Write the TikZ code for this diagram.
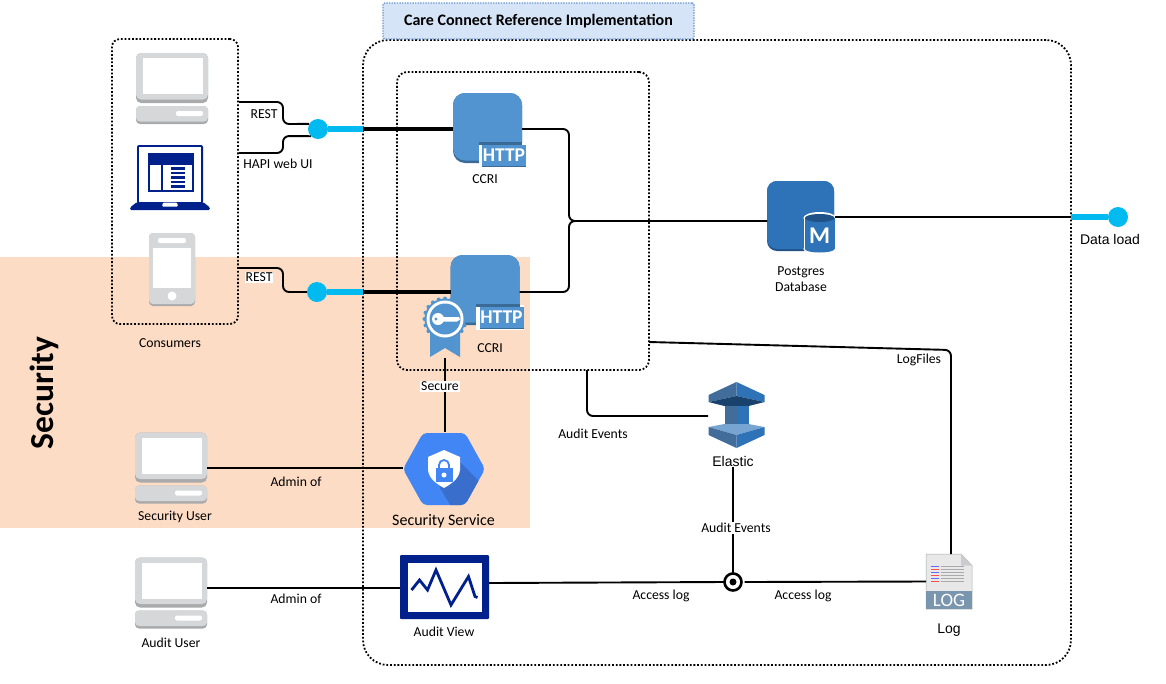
\documentclass[tikz,border=0pt]{standalone}
\usepackage{fontspec}
\setmainfont{Carlito}
\newfontfamily\helvfont{Liberation Sans}
\usetikzlibrary{arrows.meta,positioning,fit,calc}
\definecolor{zonepeach}{RGB}{252,220,196}
\definecolor{titleblue}{RGB}{214,228,248}
\definecolor{titledot}{RGB}{110,150,205}
\definecolor{cyanlink}{RGB}{0,186,240}
\definecolor{iconlight}{RGB}{213,215,216}
\definecolor{icondark}{RGB}{168,170,171}
\definecolor{navyicon}{RGB}{0,32,140}
\definecolor{awsblue}{RGB}{82,148,207}
\definecolor{awsshade}{RGB}{58,106,150}
\definecolor{dbblue}{RGB}{46,115,184}
\definecolor{dbshade}{RGB}{32,82,136}
\definecolor{gcpblue}{RGB}{66,133,244}
\definecolor{gcpshade}{RGB}{58,110,205}
\definecolor{logband}{RGB}{122,150,175}
\definecolor{logpage}{RGB}{232,232,232}
\tikzset{
  dotbox/.style={draw,rounded corners=#1,line width=1.8pt,dash pattern=on 1.8pt off 1.9pt},
  wire/.style={line width=1.9pt,rounded corners=6pt},
  heavywire/.style={line width=3.2pt},
  cyanwire/.style={cyanlink,line width=5.5pt},
  gate/.style={circle,fill=cyanlink,inner sep=0pt,minimum size=20pt},
  icon/.style={inner sep=0pt,outer sep=0pt},
  lbl/.style={inner sep=1pt,font=\fontsize{13.7}{15.5}\selectfont},
  lblback/.style={lbl,fill=white},
  lblhelv/.style={inner sep=1pt,font=\helvfont\fontsize{14}{16}\selectfont},
  pics/desktop/.style={code={
    \fill[icondark,rounded corners=5pt] (-36,-35.5) rectangle (36,14.5);
    \fill[iconlight,rounded corners=5pt] (-36,-35.5) rectangle (36,11);
    \fill[white] (-29,-30.5) rectangle (31,5.5);
    \fill[icondark,rounded corners=4pt] (-36,17.5) rectangle (36,35.5);
    \fill[iconlight,rounded corners=4pt] (-36,17.5) rectangle (36,33);
    \fill[white,rounded corners=2pt] (4,22.5) rectangle (31,27.5);
  }},
  pics/laptop/.style={code={
    \fill[navyicon,rounded corners=2pt] (-33,-32.5) rectangle (33,26);
    \fill[white] (-31,-30.5) rectangle (31,25);
    \fill[navyicon] (-22,-25) rectangle (24,14.5);
    \fill[white] (-20,-12.5) rectangle (-9,12);
    \fill[white] (-7,-12.5) rectangle (22,12);
    \foreach \liney in {-9,-4.5,0,4.5,9} {\fill[navyicon] (1,\liney-1.3) rectangle (15,\liney+1.3);}
    \fill[navyicon,rounded corners=1.5pt] (-33,24.5) -- (33,24.5) -- (40,30) -- (40,32.5) -- (-40,32.5) -- (-40,30) -- cycle;
    \fill[white,rounded corners=1pt] (-7,25) -- (7,25) -- (8,29) -- (-8,29) -- cycle;
  }},
  pics/phone/.style={code={
    \fill[icondark,rounded corners=4pt] (-23,-36.5) rectangle (23,36.5);
    \fill[iconlight,rounded corners=4pt] (-23,-36.5) rectangle (23,34.5);
    \fill[white,rounded corners=2pt] (-14,-31.5) rectangle (14,-26.5);
    \fill[white] (-19,-21.5) rectangle (19,18.5);
    \fill[white] (0,26.5) circle (4.5);
  }},
  pics/httpblock/.style={code={
    \fill[awsshade,rounded corners=12pt] (-34.5,-35) rectangle (34.5,35);
    \fill[awsblue,rounded corners=12pt] (-34.5,-35) rectangle (34.5,32.5);
    \fill[white] (-9,15) rectangle (39,40);
    \fill[awsshade] (-9,14) rectangle (34.5,17);
    \fill[awsblue] (-5.5,17) rectangle (38.5,39);
    \fill[awsshade] (-5.5,37.5) rectangle (38.5,39);
    \node[icon,white,font=\bfseries\fontsize{19.5}{22}\selectfont] at (16.5,27.5) {HTTP};
  }},
  pics/dbblock/.style={code={
    \fill[dbshade,rounded corners=10pt] (-34,-35) rectangle (33,35);
    \fill[dbblue,rounded corners=10pt] (-34,-35) rectangle (33,33);
    \fill[white] (2.5,2) rectangle (35,33);
    \fill[white] (18.7,2) ellipse (16.3 and 6);
    \fill[white] (18.7,33) ellipse (16.3 and 5);
    \fill[dbblue] (4,2) rectangle (33.5,33);
    \fill[dbblue] (18.7,33) ellipse (14.8 and 3.5);
    \fill[dbshade] (18.7,2) ellipse (14.8 and 4);
    \node[icon,white,font=\bfseries\fontsize{24}{26}\selectfont] at (18.7,20) {M};
  }},
  pics/elasticstack/.style={code={
    \fill[dbshade!85] (-28,-20) -- (0,-33) -- (0,-19) -- (-28,-13) -- cycle;
    \fill[dbblue] (28,-20) -- (0,-33) -- (0,-19) -- (28,-13) -- cycle;
    \fill[dbshade!80!black] (-28,-13) -- (0,-19) -- (28,-13) -- (12,-9) -- (-12,-9) -- cycle;
    \fill[dbshade!85] (-12,-9) rectangle (0,9);
    \fill[dbblue] (0,-9) rectangle (12,9);
    \fill[dbblue!65!white] (-12,9) -- (12,9) -- (28,12) -- (0,20) -- (-28,12) -- cycle;
    \fill[dbshade!85] (-28,12) -- (0,20) -- (0,33) -- (-28,20) -- cycle;
    \fill[dbblue] (28,12) -- (0,20) -- (0,33) -- (28,20) -- cycle;
  }},
  pics/logfile/.style={code={
    \fill[logpage,draw=icondark,line width=.5pt] (-23,-27.5) -- (12,-27.5) -- (23,-16) -- (23,27.5) -- (-23,27.5) -- cycle;
    \fill[icondark!60] (12,-27.5) -- (12,-16) -- (23,-16) -- cycle;
    \fill[logband] (-23,9) rectangle (23,27.5);
    \foreach \liney/\dotcol in {-15/blue!60,-12/red!70,-9/blue!60,-6/red!70,-3/blue!60,0/red!70} {
      \fill[\dotcol] (-18,\liney-.8) rectangle (-10,\liney+.8);
      \fill[icondark] (-8,\liney-.5) rectangle (15,\liney+.5);
    }
    \node[icon,white,font=\fontsize{19}{20}\selectfont] at (0,18.5) {LOG};
  }},
  pics/trendview/.style={code={
    \fill[navyicon,rounded corners=1pt] (-44.5,-32) rectangle (44.5,32);
    \fill[white] (-36.5,-24) rectangle (37.5,25);
    \draw[navyicon,line width=2.8pt] (-33,3) -- (-25,-7) -- (-17,3) -- (-8.5,-17) -- (6.5,18) -- (24,-10.5) -- (30.5,9.5) -- (33,10.5);
  }},
  pics/certbadge/.style={code={
    \fill[awsblue] (-15,12) -- (15,12) -- (15,38) -- (0,29) -- (-15,38) -- cycle;
    \fill[awsblue] (0,0) circle (20.5);
    \foreach \rayangle in {0,18,...,342} {\fill[awsblue] (\rayangle:20.5) circle (2);}
    \fill[white] (0,0) circle (18.5);
    \fill[awsblue] (0,0) circle (15.5);
    \fill[white] (-7,0) circle (6);
    \fill[white] (-3,-2) -- (14,-2) -- (15,.5) -- (12,2.5) -- (-3,2.5) -- cycle;
    \fill[awsblue] (-9,0) circle (1.6);
  }},
  pics/shieldhex/.style={code={
    \fill[gcpblue,rounded corners=4pt] (-41,1) -- (-21,-35) -- (21,-35) -- (41,1) -- (21,37) -- (-21,37) -- cycle;
    \begin{scope}
      \clip[rounded corners=4pt] (-41,1) -- (-21,-35) -- (21,-35) -- (41,1) -- (21,37) -- (-21,37) -- cycle;
      \fill[gcpshade] (14,-8) -- (50,28) -- (50,50) -- (14,50) -- (-4,20) -- cycle;
    \end{scope}
    \fill[white] (-16,-11) -- (0,-18) -- (16,-11) -- (16,2) .. controls (15,11) and (7,16) .. (0,20) .. controls (-7,16) and (-15,11) .. (-16,2) -- cycle;
    \draw[gcpblue,line width=1.8pt] (-5,1) -- (-5,-3) arc (180:360:5) -- (5,1);
    \fill[gcpblue] (-8.5,0) rectangle (8.5,14);
    \fill[white] (0,7) circle (2.5);
  }},
}
\begin{document}
\begin{tikzpicture}[x=1pt,y=-1pt,>=Latex]
\useasboundingbox (0,0) rectangle (1166,683);
\node[fill=zonepeach,icon,minimum width=530pt,minimum height=271pt] (securityzone) at (265,392.5) {};
\node[icon,rotate=90,font=\bfseries\fontsize{33.5}{35}\selectfont] (securitylabel) at (44,393) {Security};
\node[dotbox=25pt,icon,minimum width=708pt,minimum height=625pt] (careconnect) at (717,352.5) {};
\node[dotbox=10pt,icon,minimum width=252pt,minimum height=298pt] (ccrizone) at (523,221) {};
\node[dotbox=8pt,icon,minimum width=126pt,minimum height=285pt] (consumers) at (175,181.5) {};
\node[draw=titledot,fill=titleblue,icon,line width=1.4pt,dash pattern=on 1.4pt off 1.2pt,rounded corners=2pt,minimum width=311pt,minimum height=36pt,font=\bfseries\fontsize{16}{18}\selectfont] (titlebox) at (538.5,21) {Care Connect Reference Implementation};
% consumer side
\node[icon,minimum width=72pt,minimum height=71pt] (deskA) at (172,88.5) {};
\pic at (deskA) {desktop};
\node[icon,minimum width=80pt,minimum height=65pt] (webui) at (170,177.5) {};
\pic at (webui) {laptop};
\node[icon,minimum width=46pt,minimum height=73pt] (mobile) at (172,269.5) {};
\pic at (mobile) {phone};
\node[lbl] (consumerlabel) at (170,343) {Consumers};
\node[icon,minimum width=72pt,minimum height=71pt] (secuser) at (171,468) {};
\pic at (secuser) {desktop};
\node[lbl] (secuserlabel) at (175,517) {Security User};
\node[icon,minimum width=72pt,minimum height=71pt] (audituser) at (171,593) {};
\pic at (audituser) {desktop};
\node[lbl] (audituserlabel) at (171,643) {Audit User};
% services
\node[icon,minimum width=69pt,minimum height=70pt] (ccriA) at (487.5,128) {};
\pic at (ccriA) {httpblock};
\node[lbl] (ccriAlabel) at (485,179) {CCRI};
\node[icon,minimum width=69pt,minimum height=70pt] (ccriB) at (485,290) {};
\pic at (ccriB) {httpblock};
\node[lbl] (ccriBlabel) at (490,348) {CCRI};
\node[icon,minimum width=36pt,minimum height=57pt] (badge) at (445,329) {};
\pic at (445,319) {certbadge};
\node[icon,minimum width=68pt,minimum height=70pt] (database) at (801,216) {};
\pic at (database) {dbblock};
\node[lbl,align=center] (databaselabel) at (801,279) {Postgres\\Database};
\node[icon,minimum width=57pt,minimum height=66pt] (elastic) at (736.5,415) {};
\pic at (elastic) {elasticstack};
\node[lblhelv] (elasticlabel) at (733,461) {Elastic};
\node[icon,minimum width=82pt,minimum height=73pt] (secservice) at (444,468) {};
\pic at (secservice) {shieldhex};
\node[icon,font=\fontsize{16}{18}\selectfont] (secservicelabel) at (443.5,521.5) {Security Service};
\node[icon,minimum width=89pt,minimum height=64pt] (auditview) at (444.5,587) {};
\pic at (auditview) {trendview};
\node[lbl] (auditviewlabel) at (444,632) {Audit View};
\node[icon,minimum width=46pt,minimum height=55pt] (logfile) at (949,581.5) {};
\pic at (logfile) {logfile};
\node[lblhelv] (loglabel) at (949,630) {Log};
% gates and tap
\node[gate] (gateA) at (318,129) {};
\node[gate] (gateB) at (317,292) {};
\node[gate] (gateC) at (1118,217) {};
\node[circle,draw,fill=white,icon,line width=2.6pt,minimum size=17pt] (tap) at (733,582) {};
\fill (tap) circle (3.5);
\coordinate (restA) at (239,102);
\coordinate (webA) at (239,153);
\coordinate (restB) at (238,268);
\coordinate (logout) at (649,342);
\coordinate (auditout) at (587,370);
% links
\draw[wire] (restA) -- (283,102) -- (283,124) -- (gateA.150);
\draw[wire] (webA) -- (283,153) -- (283,136) -- (gateA.225);
\draw[wire] (restB) -- (283,268) -- (283,292) -- (gateB.west);
\draw[cyanwire] (gateA) -- (gateA -| careconnect.west);
\draw[heavywire] (gateA -| careconnect.west) -- (ccriA.west |- gateA);
\draw[cyanwire] (gateB) -- (gateB -| careconnect.west);
\draw[heavywire] (gateB -| careconnect.west) -- (ccriB.west |- gateB);
\draw[wire] (ccriA.east |- 0,129) -- (569,129) -- (569,221) -- (database.west |- 0,221);
\draw[wire] (ccriB.east |- 0,292) -- (569,292) -- (569,221) -- (database.west |- 0,221);
\draw[wire] (database.east |- gateC) -- (gateC -| careconnect.east);
\draw[cyanwire] (gateC -| careconnect.east) -- (gateC);
\draw[wire] (logout) -- (951,350) -- (logfile.north -| 951,0);
\draw[wire] (auditout) -- (587,416) -- (elastic.west |- 0,416);
\draw[wire] (badge.south) -- (secservice.north -| badge.south);
\draw[wire] (secservice.west) -- (secuser.east);
\draw[wire] (audituser.east |- 0,588) -- (auditview.west |- 0,588);
\draw[wire] (auditview.east |- 0,583) -- (tap.west);
\draw[wire] ([xshift=3pt]tap.east) -- (logfile.west);
\draw[wire] (elasticlabel.south) -- (tap.north);
% labels
\node[lblback] (restAlabel) at (264,114.5) {REST};
\node[lbl] (weblabel) at (278,164) {HAPI web UI};
\node[lblback] (restBlabel) at (259,277.5) {REST};
\node[lblback] (securelabel) at (440,386) {Secure};
\node[lbl] (adminAlabel) at (296,482) {Admin of};
\node[lbl] (adminBlabel) at (296,599) {Admin of};
\node[lbl] (auditAlabel) at (593,434) {Audit Events};
\node[lblback] (auditBlabel) at (736,528) {Audit Events};
\node[lbl] (accessAlabel) at (661,596) {Access log};
\node[lbl] (accessBlabel) at (803,596) {Access log};
\node[lbl] (logfileslabel) at (919,360) {LogFiles};
\node[lblhelv] (dataloadlabel) at (1110,239) {Data load};
\end{tikzpicture}
\end{document}
